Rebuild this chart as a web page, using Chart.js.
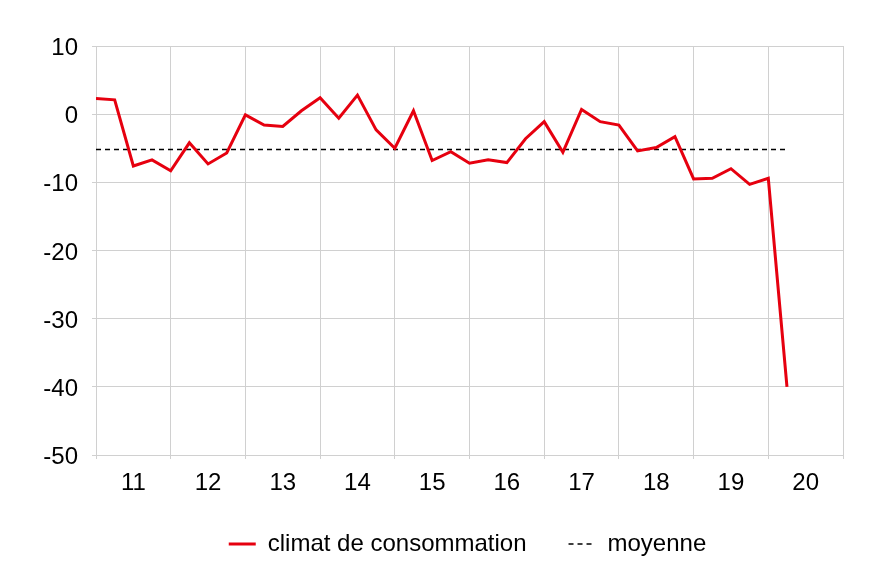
<!DOCTYPE html>
<html>
<head>
<meta charset="utf-8">
<script src="https://cdn.jsdelivr.net/npm/chart.js@4.4.1/dist/chart.umd.min.js"></script>
<style>
  html, body { margin: 0; padding: 0; background: #fff; }
  #wrap { width: 895px; height: 563px; }
</style>
</head>
<body>
<div id="wrap"><canvas id="chart"></canvas></div>
<script>
// quarters 2011 T1 .. 2020 T2
const quarters = [
    "2011T1", "2011T2", "2011T3", "2011T4",
    "2012T1", "2012T2", "2012T3", "2012T4",
    "2013T1", "2013T2", "2013T3", "2013T4",
    "2014T1", "2014T2", "2014T3", "2014T4",
    "2015T1", "2015T2", "2015T3", "2015T4",
    "2016T1", "2016T2", "2016T3", "2016T4",
    "2017T1", "2017T2", "2017T3", "2017T4",
    "2018T1", "2018T2", "2018T3", "2018T4",
    "2019T1", "2019T2", "2019T3", "2019T4",
    "2020T1", "2020T2"
];
const climat = [
    2.3, 2.1, -7.6, -6.7,
    -8.3, -4.2, -7.3, -5.7,
    -0.1, -1.6, -1.8, 0.5,
    2.4, -0.6, 2.8, -2.3,
    -5.0, 0.5, -6.8, -5.5,
    -7.2, -6.7, -7.1, -3.6,
    -1.1, -5.6, 0.7, -1.1,
    -1.6, -5.4, -4.9, -3.3,
    -9.5, -9.4, -8.0, -10.3,
    -9.4, -40.0
];
const moyenne = [
    -5.2, -5.2, -5.2, -5.2, -5.2, -5.2, -5.2, -5.2, -5.2, -5.2,
    -5.2, -5.2, -5.2, -5.2, -5.2, -5.2, -5.2, -5.2, -5.2, -5.2,
    -5.2, -5.2, -5.2, -5.2, -5.2, -5.2, -5.2, -5.2, -5.2, -5.2,
    -5.2, -5.2, -5.2, -5.2, -5.2, -5.2, -5.2, -5.2
];
const yearLabels = ["11", "12", "13", "14", "15", "16", "17", "18", "19", "20"];
const yTicks = [10, 0, -10, -20, -30, -40, -50];

const gridColor = "#d0d0d0";
const font = { family: "'Liberation Sans', Arial, sans-serif", size: 24 };

// x is the quarter index; each year = 4 quarters, label sits mid-year
const toPoints = arr => arr.map((v, i) => ({ x: i, y: v }));

new Chart(document.getElementById("chart"), {
    type: "line",
    data: {
        datasets: [
            {
                label: "climat de consommation",
                data: toPoints(climat),
                borderColor: "#e6000f",
                borderWidth: 3,
                pointRadius: 0,
                tension: 0
            },
            {
                label: "moyenne",
                data: toPoints(moyenne),
                borderColor: "#000",
                borderWidth: 1.5,
                borderDash: [5, 4],
                pointRadius: 0,
                tension: 0
            }
        ]
    },
    options: {
        responsive: true,
        maintainAspectRatio: false,
        animation: false,
        layout: { padding: { left: 40, right: 0, top: 46, bottom: -3 } },
        plugins: {
            tooltip: { enabled: false },
            legend: {
                position: "bottom",
                labels: {
                    usePointStyle: true,
                    pointStyle: "line",
                    pointStyleWidth: 27,
                    padding: 42,
                    color: "#000",
                    font: font,
                    generateLabels: chart =>
                        Chart.defaults.plugins.legend.labels.generateLabels(chart).map(item => {
                            const ds = chart.data.datasets[item.datasetIndex];
                            item.lineDash = ds.borderDash || [];
                            item.lineWidth = ds.borderWidth;
                            item.strokeStyle = ds.borderColor;
                            return item;
                        })
                }
            }
        },
        scales: {
            x: {
                type: "linear",
                min: 0,
                max: yearLabels.length * 4,
                afterBuildTicks: axis => {
                    const t = [];
                    for (let v = 0; v <= yearLabels.length * 4; v += 2) t.push({ value: v });
                    axis.ticks = t;
                },
                afterFit: axis => { axis.height = 35; },
                ticks: {
                    autoSkip: false,
                    maxRotation: 0,
                    padding: 10,
                    color: "#000",
                    font: font,
                    callback: v => (v % 4 === 2 ? yearLabels[(v - 2) / 4] : "")
                },
                grid: {
                    color: c => (c.tick && c.tick.value % 4 === 0 ? gridColor : "rgba(0,0,0,0)"),
                    tickLength: 4
                },
                border: { color: gridColor }
            },
            y: {
                min: -50,
                max: 10,
                afterBuildTicks: axis => { axis.ticks = yTicks.map(v => ({ value: v })); },
                afterFit: axis => { axis.width = 56; },
                ticks: {
                    padding: 14,
                    labelOffset: 2.5,
                    color: "#000",
                    font: font
                },
                grid: { color: gridColor, tickLength: 4 },
                border: { color: gridColor }
            },
            // empty right axis, only reserves the right margin so the legend sits centred like the original
            yRight: {
                position: "right",
                min: -50,
                max: 10,
                afterFit: axis => { axis.width = 52; },
                ticks: { display: false },
                grid: { display: false },
                border: { display: false }
            }
        }
    }
});
</script>
</body>
</html>
